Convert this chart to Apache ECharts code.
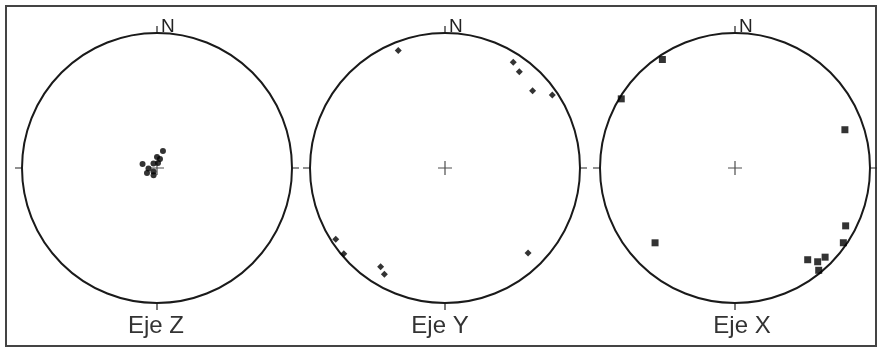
<!DOCTYPE html>
<html>
<head>
<meta charset="utf-8">
<script src="https://cdn.jsdelivr.net/npm/echarts@6/dist/echarts.min.js"></script>
<style>
  html, body { margin: 0; padding: 0; background: #fff; }
  #chart { width: 878px; height: 351px; }
</style>
</head>
<body>
<div id="chart"></div>
<script>
// proyecciones: [radio normalizado (0-1), azimut en grados desde el N]
const ejeZ = [
  [0.133, 19.4], [0.111, 285.4], [0.081, 0], [0.070, 18.4], [0.042, 322.1],
  [0.038, 11.3], [0.063, 266.6], [0.083, 243.4], [0.037, 225], [0.060, 205]
];
const ejeY = [
  [0.936, 338.3], [0.933, 32.8], [0.900, 37.7], [0.865, 48.6], [0.961, 55.8],
  [0.966, 236.9], [0.983, 229.7], [0.873, 213.1], [0.906, 209.7], [0.881, 135.7]
];
const ejeX = [
  [0.967, 326.2], [0.986, 301.3], [0.862, 70.8], [0.811, 226.9], [0.925, 117.6],
  [0.975, 124.6], [0.867, 141.6], [0.926, 138.6], [0.939, 134.7], [0.979, 140.7]
];
const titulos = ['Eje Z', 'Eje Y', 'Eje X'];
const norte = 'N';
const centro = [[0, 0]];

const chart = echarts.init(document.getElementById('chart'));

const cxs = [157, 445, 735];
const cy = 168;
const R = 135;
const tituloX = [156, 440, 742];

const conjuntos = [
  { data: ejeZ, symbol: 'circle', size: 6 },
  { data: ejeY, symbol: 'diamond', size: 7 },
  { data: ejeX, symbol: 'rect', size: 7 }
];

const cruz = 'path://M0,6.4H14V7.6H0Z M6.4,0H7.6V14H6.4Z';

const series = [];
conjuntos.forEach((c, i) => {
  // cruz central
  series.push({
    type: 'scatter',
    coordinateSystem: 'polar',
    polarIndex: i,
    data: centro,
    symbol: cruz,
    symbolSize: 14,
    silent: true,
    itemStyle: { color: '#222' },
    z: 2
  });
  series.push({
    type: 'scatter',
    coordinateSystem: 'polar',
    polarIndex: i,
    data: c.data,
    symbol: c.symbol,
    symbolSize: c.size,
    itemStyle: { color: '#000' },
    z: 3
  });
});

const graphic = [
  {
    type: 'rect',
    shape: { x: 6, y: 6, width: 870, height: 340 },
    style: { fill: 'none', stroke: '#444', lineWidth: 2 }
  }
];
cxs.forEach((cx, i) => {
  graphic.push({
    type: 'text',
    x: cx + 4,
    y: 36,
    style: {
      text: norte,
      fontSize: 19,
      fontFamily: 'Liberation Sans',
      fill: '#222',
      align: 'left', textAlign: 'left',
      verticalAlign: 'bottom', textVerticalAlign: 'bottom'
    }
  });
  graphic.push({
    type: 'text',
    x: tituloX[i],
    y: 338,
    style: {
      text: titulos[i],
      fontSize: 24,
      fontFamily: 'Liberation Sans',
      fill: '#333',
      align: 'center', textAlign: 'center',
      verticalAlign: 'bottom', textVerticalAlign: 'bottom'
    }
  });
});

const option = {
  animation: false,
  backgroundColor: '#fff',
  polar: cxs.map(cx => ({ center: [cx, cy], radius: R })),
  angleAxis: cxs.map((_, i) => ({
    polarIndex: i,
    type: 'value',
    min: 0,
    max: 360,
    interval: 90,
    startAngle: 90,
    clockwise: true,
    axisLine: { show: true, lineStyle: { color: '#1a1a1a', width: 2 } },
    axisTick: { show: true, length: 7, lineStyle: { color: '#222', width: 1.2 } },
    axisLabel: { show: false },
    splitLine: { show: false }
  })),
  radiusAxis: cxs.map((_, i) => ({
    polarIndex: i,
    type: 'value',
    min: 0,
    max: 1,
    axisLine: { show: false },
    axisTick: { show: false },
    axisLabel: { show: false },
    splitLine: { show: false }
  })),
  graphic: graphic,
  series: series
};

chart.setOption(option);
</script>
</body>
</html>
